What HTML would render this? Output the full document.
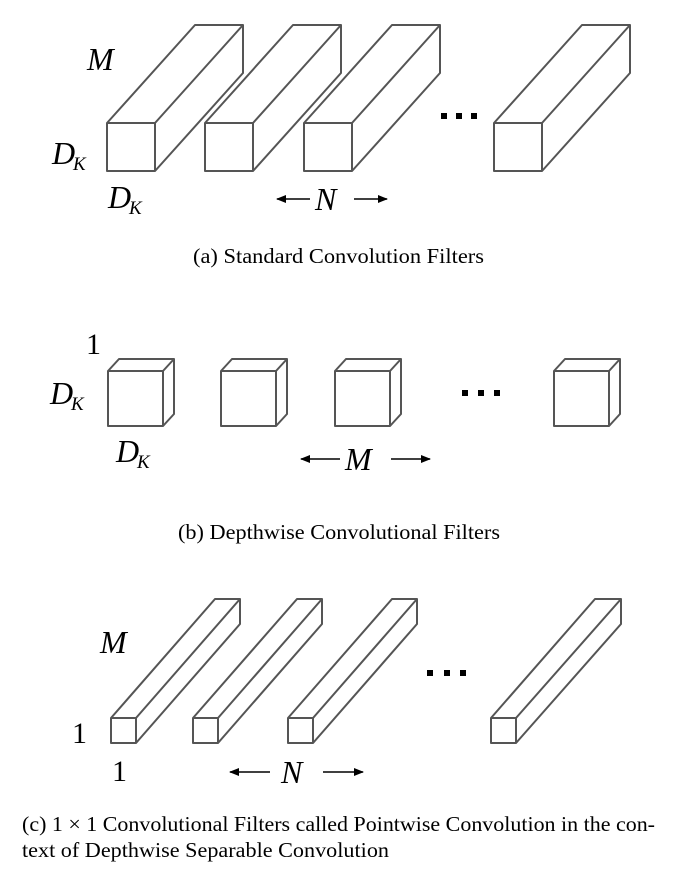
<!DOCTYPE html>
<html><head><style>
body{margin:0;background:#fff;width:680px;height:887px;overflow:hidden}
svg{display:block}
.m{font-family:"Liberation Serif",serif;font-style:italic;font-size:32px;fill:#000}
.s{font-family:"Liberation Serif",serif;font-style:italic;font-size:19px;fill:#000}
.r{font-family:"Liberation Serif",serif;font-size:30px;fill:#000}
.c{font-family:"Liberation Serif",serif;font-size:21px;fill:#000}
</style></head><body>
<svg width="680" height="887" viewBox="0 0 680 887" xmlns="http://www.w3.org/2000/svg">
<defs>
<marker id="ar" markerWidth="10" markerHeight="8" refX="9" refY="4" orient="auto" markerUnits="userSpaceOnUse"><path d="M0,0 L10,4 L0,8 z" fill="#000"/></marker>
</defs>
<g fill="#fff" stroke="#555" stroke-width="2" stroke-linejoin="round">
<path d="M107,123 h48 v48 h-48 z M107,123 L195,25 H243 L155,123 M243,25 V73 L155,171"/>
<path d="M205,123 h48 v48 h-48 z M205,123 L293,25 H341 L253,123 M341,25 V73 L253,171"/>
<path d="M304,123 h48 v48 h-48 z M304,123 L392,25 H440 L352,123 M440,25 V73 L352,171"/>
<path d="M494,123 h48 v48 h-48 z M494,123 L582,25 H630 L542,123 M630,25 V73 L542,171"/>
<path d="M108,371 h55 v55 h-55 z M108,371 L119,359 H174 L163,371 M174,359 V414 L163,426"/>
<path d="M221,371 h55 v55 h-55 z M221,371 L232,359 H287 L276,371 M287,359 V414 L276,426"/>
<path d="M335,371 h55 v55 h-55 z M335,371 L346,359 H401 L390,371 M401,359 V414 L390,426"/>
<path d="M554,371 h55 v55 h-55 z M554,371 L565,359 H620 L609,371 M620,359 V414 L609,426"/>
<path d="M111,718 h25 v25 h-25 z M111,718 L215,599 H240 L136,718 M240,599 V624 L136,743"/>
<path d="M193,718 h25 v25 h-25 z M193,718 L297,599 H322 L218,718 M322,599 V624 L218,743"/>
<path d="M288,718 h25 v25 h-25 z M288,718 L392,599 H417 L313,718 M417,599 V624 L313,743"/>
<path d="M491,718 h25 v25 h-25 z M491,718 L595,599 H621 L516,718 M621,599 V624 L516,743"/>
</g>
<g fill="#000">
<rect x="441" y="113" width="6" height="6"/><rect x="456" y="113" width="6" height="6"/><rect x="471" y="113" width="6" height="6"/>
<rect x="462" y="390" width="6" height="6"/><rect x="478" y="390" width="6" height="6"/><rect x="494" y="390" width="6" height="6"/>
<rect x="427" y="670" width="6" height="6"/><rect x="444" y="670" width="6" height="6"/><rect x="460" y="670" width="6" height="6"/>
</g>
<g stroke="#000" stroke-width="1.6">
<line x1="310" y1="199" x2="277" y2="199" marker-end="url(#ar)"/>
<line x1="354" y1="199" x2="387" y2="199" marker-end="url(#ar)"/>
<line x1="340" y1="459" x2="301" y2="459" marker-end="url(#ar)"/>
<line x1="391" y1="459" x2="430" y2="459" marker-end="url(#ar)"/>
<line x1="270" y1="772" x2="230" y2="772" marker-end="url(#ar)"/>
<line x1="323" y1="772" x2="363" y2="772" marker-end="url(#ar)"/>
</g>
<text class="m" x="87" y="70">M</text>
<text class="m" x="52" y="164">D</text><text class="s" x="73" y="170">K</text>
<text class="m" x="108" y="208">D</text><text class="s" x="129" y="214">K</text>
<text class="m" x="315" y="210">N</text>
<text class="c" x="193" y="263" textLength="291" lengthAdjust="spacingAndGlyphs">(a)  Standard Convolution Filters</text>

<text class="r" x="86" y="354">1</text>
<text class="m" x="50" y="404">D</text><text class="s" x="71" y="410">K</text>
<text class="m" x="116" y="462">D</text><text class="s" x="137" y="468">K</text>
<text class="m" x="345" y="470">M</text>
<text class="c" x="178" y="539" textLength="322" lengthAdjust="spacingAndGlyphs">(b)  Depthwise Convolutional Filters</text>

<text class="m" x="100" y="653">M</text>
<text class="r" x="72" y="743">1</text>
<text class="r" x="112" y="781">1</text>
<text class="m" x="281" y="783">N</text>
<text class="c" x="22" y="831" textLength="633" lengthAdjust="spacingAndGlyphs">(c)  1 × 1 Convolutional Filters called Pointwise Convolution in the con-</text>
<text class="c" x="22" y="857" textLength="367" lengthAdjust="spacingAndGlyphs">text of Depthwise Separable Convolution</text>
</svg>
</body></html>
